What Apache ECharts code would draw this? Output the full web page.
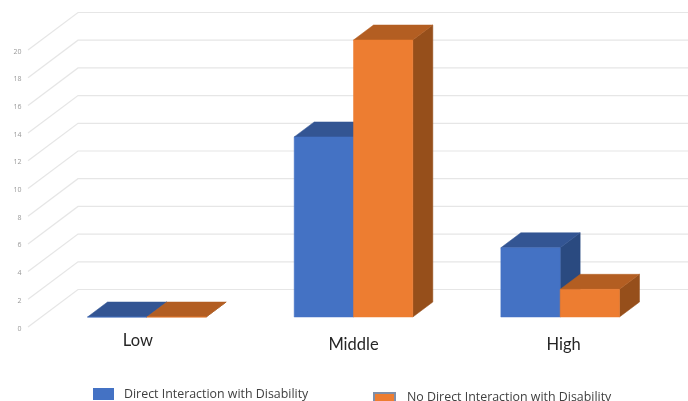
<!DOCTYPE html>
<html>
<head>
<meta charset="utf-8">
<style>html,body{margin:0;padding:0;background:#fff}#chart{width:688px;height:401px}</style>
<script src="https://cdn.jsdelivr.net/npm/echarts@6/dist/echarts.min.js"></script>
</head>
<body>
<div id="chart"></div>
<script>
// Survey responses by level, split by direct interaction with disability
const categories = ['Low', 'Middle', 'High'];
const directInteraction = [0, 13, 5];
const noDirectInteraction = [0, 20, 2];
const valueTicks = [0, 2, 4, 6, 8, 10, 12, 14, 16, 18, 20];

const directName = 'Direct Interaction with Disability';
const noDirectName = 'No Direct Interaction with Disability';

// Pseudo-3D projection, in pixels
const depthX = 20, depthY = 15;      // extrusion of each column
const planeLift = 10;                // column plane above the front floor edge
const wallX = 50, wallY = 37.5;      // receding run of the side wall
const wallInset = 15.5;              // front floor edge left of the plot
const barShare = 0.287;              // column width as a share of the band

const faces = {
  blue: { front: '#4472C4', top: '#335593', side: '#2A4A80' },
  orange: { front: '#ED7D31', top: '#B35E22', side: '#964F1B' }
};

// Draws one extruded column; side -1 sits left of the band centre, +1 right of it
function columnRenderer(palette, side) {
  return function (params, api) {
    const band = api.size([1, 0])[0];
    const w = band * barShare;
    const base = api.coord([api.value(0), 0]);
    const head = api.coord([api.value(0), api.value(1)]);
    const x0 = side < 0 ? base[0] - w : base[0];
    const x1 = x0 + w;
    const yb = base[1] - planeLift;
    const yt = head[1] - planeLift;
    const poly = (points, fill) => ({
      type: 'polygon',
      shape: { points },
      style: { fill, stroke: fill, lineWidth: 0.5 }
    });
    return {
      type: 'group',
      children: [
        poly([[x1, yb], [x1 + depthX, yb - depthY], [x1 + depthX, yt - depthY], [x1, yt]], palette.side),
        poly([[x0, yt], [x0 + depthX, yt - depthY], [x1 + depthX, yt - depthY], [x1, yt]], palette.top),
        poly([[x0, yb], [x1, yb], [x1, yt], [x0, yt]], palette.front)
      ]
    };
  };
}

// Draws the gridline for one tick: up the side wall, then across the back wall
function wallRenderer(params, api) {
  const p = api.coord([0, api.value(0)]);
  const left = params.coordSys.x - wallInset;
  return {
    type: 'polyline',
    shape: { points: [[left, p[1]], [left + wallX, p[1] - wallY], [api.getWidth(), p[1] - wallY]] },
    style: { fill: 'none', stroke: '#E6E6E6', lineWidth: 1.2 }
  };
}

const labelOffsets = {
  Low: { padding: [0, 18, 0, 0] },
  Middle: { padding: [4, 0, 0, 0] },
  High: { padding: [4, 0, 0, 7] }
};

const chart = echarts.init(document.getElementById('chart'), null, { renderer: 'canvas' });
chart.setOption({
  animation: false,
  backgroundColor: '#fff',
  grid: { left: 43.5, top: 50, width: 620, height: 277 },
  xAxis: {
    type: 'category',
    data: categories.map(c => ({ value: c, textStyle: labelOffsets[c] })),
    axisLine: { show: false },
    axisTick: { show: false },
    splitLine: { show: false },
    axisLabel: { margin: 5, color: '#262626', fontFamily: 'Lato', fontSize: 16.5, verticalAlign: 'top', interval: 0 }
  },
  yAxis: {
    type: 'value',
    min: 0,
    max: 20,
    interval: 2,
    axisLine: { show: false },
    axisTick: { show: false },
    splitLine: { show: false },
    axisLabel: { margin: 22, color: '#999999', fontFamily: 'Open Sans', fontSize: 7, verticalAlign: 'top', lineHeight: 3 }
  },
  legend: [
    {
      data: [directName],
      left: 93, top: 388,
      padding: 0,
      itemWidth: 21, itemHeight: 12, itemGap: 0,
      icon: 'rect',
      selectedMode: false,
      textStyle: { color: '#404040', fontFamily: 'Open Sans', fontSize: 12.4, padding: [-2, 0, 0, 5] }
    },
    {
      data: [noDirectName],
      left: 373, top: 391,
      padding: 0,
      itemWidth: 21, itemHeight: 12, itemGap: 0,
      icon: 'rect',
      selectedMode: false,
      // An empty second line lifts the text above the swatch centre
      formatter: name => `{t|${name}}\n{g|}`,
      textStyle: {
        rich: {
          t: { color: '#404040', fontFamily: 'Open Sans', fontSize: 12.4, lineHeight: 14, padding: [0, 0, 0, 7] },
          g: { height: 4, lineHeight: 4 }
        }
      }
    }
  ],
  series: [
    {
      type: 'custom',
      name: 'walls',
      silent: true,
      clip: false,
      renderItem: wallRenderer,
      data: valueTicks.map(t => [t]),
      encode: { y: 0 }
    },
    {
      type: 'custom',
      name: directName,
      clip: false,
      itemStyle: { color: faces.blue.front },
      renderItem: columnRenderer(faces.blue, -1),
      data: categories.map((c, i) => [i, directInteraction[i]]),
      encode: { x: 0, y: 1 }
    },
    {
      type: 'custom',
      name: noDirectName,
      clip: false,
      itemStyle: { color: faces.orange.front, borderColor: '#7F8FA9', borderWidth: 1 },
      renderItem: columnRenderer(faces.orange, 1),
      data: categories.map((c, i) => [i, noDirectInteraction[i]]),
      encode: { x: 0, y: 1 }
    }
  ]
});
</script>
</body>
</html>
